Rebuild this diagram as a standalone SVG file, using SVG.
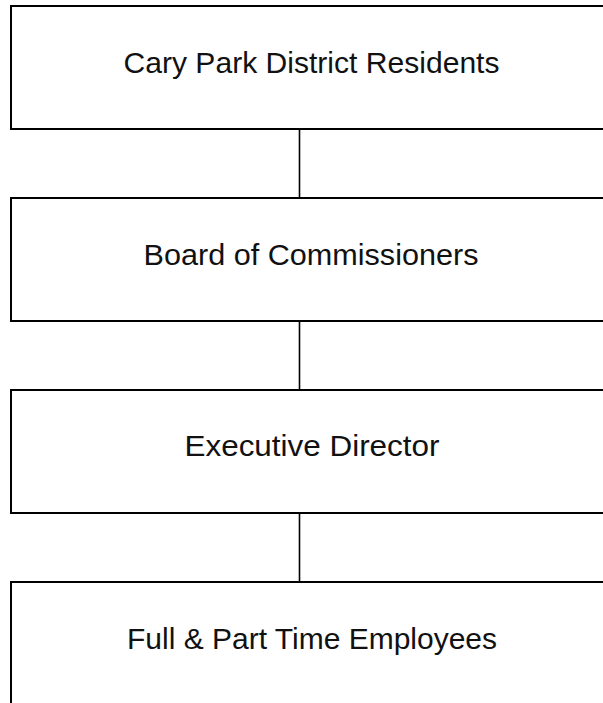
<svg xmlns="http://www.w3.org/2000/svg" width="603" height="703" viewBox="0 0 603 703">
<style>
.box{fill:#ffffff;stroke:#000000;stroke-width:2}
.lbl{font-family:"Liberation Sans",Arial,sans-serif;font-size:30px;fill:#111111;text-anchor:middle}
.conn{stroke:#000000;stroke-width:1.6;fill:none}
</style>
<rect width="603" height="703" fill="#ffffff"/>
<g id="connectors">
<line class="conn" x1="299.5" y1="129" x2="299.5" y2="198"/>
<line class="conn" x1="299.5" y1="321" x2="299.5" y2="392"/>
<line class="conn" x1="299.5" y1="513" x2="299.5" y2="582"/>
</g>
<g id="node-residents">
<rect class="box" x="11" y="6" width="601" height="123"/>
<text class="lbl" x="311.5" y="73" textLength="376" lengthAdjust="spacingAndGlyphs">Cary Park District Residents</text>
</g>
<g id="node-board">
<rect class="box" x="11" y="198" width="601" height="123"/>
<text class="lbl" x="311" y="265" textLength="335" lengthAdjust="spacingAndGlyphs">Board of Commissioners</text>
</g>
<g id="node-director">
<rect class="box" x="11" y="390" width="601" height="123"/>
<text class="lbl" x="312" y="456" textLength="255" lengthAdjust="spacingAndGlyphs">Executive Director</text>
</g>
<g id="node-employees">
<rect class="box" x="11" y="582" width="601" height="140"/>
<text class="lbl" x="312" y="649" textLength="370" lengthAdjust="spacingAndGlyphs">Full &amp; Part Time Employees</text>
</g>
</svg>
